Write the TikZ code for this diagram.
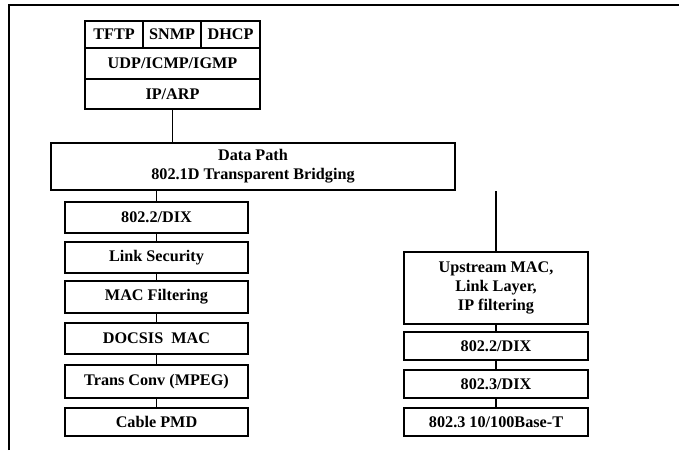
\documentclass[tikz,border=0pt]{standalone}
\usepackage{fontspec}
\setmainfont{Liberation Serif}
\begin{document}
\begin{tikzpicture}[x=1pt,y=-1pt,
  layer/.style={draw,line width=1.2pt,inner sep=0pt,align=center,
    font=\fontsize{16.2}{18.8}\selectfont\bfseries},
  conn/.style={line width=1.2pt}]
\useasboundingbox (0,0) rectangle (679,450);
% frame
\coordinate (fb) at (9,450);
\coordinate (ftl) at (9,5);
\coordinate (ftr) at (679,5);
\draw[line width=1.2pt] (fb) -- (ftl) -- (ftr);
% top stack
\node[layer,minimum width=58pt,minimum height=27pt] (tftp) at (114,34.5) {TFTP};
\node[layer,minimum width=58pt,minimum height=27pt] (snmp) at (172,34.5) {SNMP};
\node[layer,minimum width=59pt,minimum height=27pt] (dhcp) at (230.5,34.5) {DHCP};
\node[layer,minimum width=175pt,minimum height=31pt] (udp) at (172.5,63.5) {UDP/ICMP/IGMP};
\node[layer,minimum width=175pt,minimum height=30pt] (ip) at (172.5,94) {IP/ARP};
% data path
\node[layer,minimum width=404pt,minimum height=47pt] (dp) at (253,166.5) {Data Path\\802.1D Transparent Bridging};
\draw[conn] (ip.south) -- (ip.south |- dp.north);
% left column
\node[layer,minimum width=183pt,minimum height=31pt] (l1) at (156.5,217.5) {802.2/DIX};
\node[layer,minimum width=183pt,minimum height=31pt] (l2) at (156.5,257.5) {Link Security};
\node[layer,minimum width=183pt,minimum height=32pt] (l3) at (156.5,297) {MAC Filtering};
\node[layer,minimum width=183pt,minimum height=31pt] (l4) at (156.5,338.5) {DOCSIS\ \ MAC};
\node[layer,minimum width=183pt,minimum height=33pt] (l5) at (156.5,381.5) {Trans Conv (MPEG)};
\node[layer,minimum width=183pt,minimum height=28pt] (l6) at (156.5,422) {Cable PMD};
\draw[conn] (l1.north) -- (l1.north |- dp.south);
\draw[conn] (l1) -- (l2);
\draw[conn] (l2) -- (l3);
\draw[conn] (l3) -- (l4);
\draw[conn] (l4) -- (l5);
\draw[conn] (l5) -- (l6);
% right column
\node[layer,minimum width=184pt,minimum height=72pt] (r1) at (496,288) {Upstream MAC,\\Link Layer,\\IP filtering};
\node[layer,minimum width=184pt,minimum height=28pt] (r2) at (496,346) {802.2/DIX};
\node[layer,minimum width=184pt,minimum height=28pt] (r3) at (496,384) {802.3/DIX};
\node[layer,minimum width=184pt,minimum height=28pt] (r4) at (496,422) {802.3 10/100Base-T};
\draw[conn] (r1.north) -- (r1.north |- dp.south);
\draw[conn] (r1) -- (r2);
\draw[conn] (r2) -- (r3);
\draw[conn] (r3) -- (r4);
\end{tikzpicture}
\end{document}
